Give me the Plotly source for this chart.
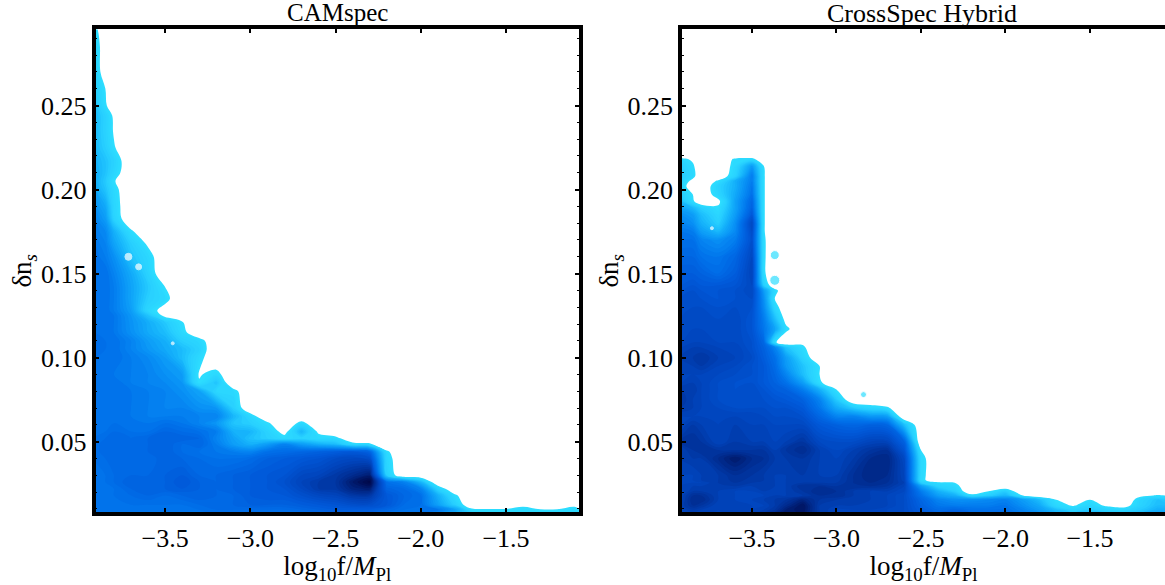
import plotly.graph_objects as go

LEFT_X = [-3.92,-3.85,-3.8,-3.7,-3.6,-3.5,-3.4,-3.3,-3.2,-3.1,-3.0,-2.9,-2.8,-2.7,-2.6,-2.5,-2.4,-2.3,-2.2,-2.1,-2.0,-1.9,-1.8,-1.7,-1.6,-1.5,-1.4,-1.3,-1.2,-1.1,-1.056]
LEFT_Y = [0.0068,0.0095,0.0125,0.018,0.022,0.026,0.03,0.04,0.044,0.0485,0.052,0.056,0.061,0.065,0.07,0.08,0.085,0.09,0.10,0.105,0.11,0.115,0.121,0.125,0.128,0.135,0.142,0.15,0.16,0.168,0.175,0.183,0.19,0.2,0.205,0.21,0.217,0.225,0.235,0.244,0.25,0.26,0.27,0.285,0.292,0.2967]
LEFT_ROWS = [
 [4.5,4.5,4.5,4.5,4.5,4.5,4.5,4.5,5,5,5,5,5,5,5.5,5.5,5.5,5.5,5,5,5,4,3,2,1.4,1.4,1.4,1.4,1.4,1.4,1.4],
 [5,5,5,5,5,5,5,5,5.2,5.2,5.2,5.2,5.2,5.4,5.6,5.8,5.8,5.8,5.4,5,5,4.8,3.5,1.3,1.2,1.2,1.3,1.1,1.1,1.3,1.1],
 [5,5,5,5,5,5,5,5.2,5.4,5.4,5.6,5.6,5.6,5.8,6,6.2,6.5,6.5,6,5.2,5,3.5,2,0,0,0,0.8,0,0,0.8,0],
 [5,5,5,5.2,5.4,5.2,5.4,5.6,5.4,5.4,5.8,6,6,6.4,6.8,7,7.5,7.5,6,5.4,5,3,1.2],
 [5,5,5,5.4,5.6,5.6,5.8,5.6,5.4,5.6,5.8,6,6.2,6.8,7.4,7.5,8.3,8.5,5.5,5.2,4.4,1.8],
 [5,5,5.2,5.6,5.6,5.6,6,5.6,5.4,5.6,5.8,6,6.4,7,7.4,7.6,8.6,9.3,5,4.5,2.8],
 [5,5,5.2,5.4,5.4,5.6,5.8,5.4,5.4,5.6,5.8,6,6.2,6.8,7,7.5,8,8.5,2],
 [5,5.2,5.4,5.4,5.2,5.6,5.4,5.2,5,5,5.2,5.6,5.8,6,6.2,6.6,6.8,6.5,1.5],
 [5,5.4,5.4,5.2,5.4,5.6,5.2,5,4.8,4.6,4.4,5,5.2,5.4,5.6,5.8,6,5.5,1.2],
 [5,5.4,5.4,5.2,5.4,5.6,5.2,5.4,4.6,3.6,3,3.6,4.4,3.6,3,2.6,1.4,1.2],
 [5,5.2,5.4,5.2,5.4,5.6,5.6,5.4,4.4,3.4,2.5,2,1.4,1.8,1.4,1.4],
 [5,5,5.2,5,5,5.4,5.2,5,4.6,3,2.8,1.8,0.6,2.8,0.8],
 [5,5,5,5,4.8,5,4.8,4.4,3.8,2.4,2,1.2,0,1.4],
 [5,5,5,4.8,4.6,4.6,4.6,4.4,4.4,2.8,1.6],
 [5,5,5,4.8,4.6,4.4,4.4,4,3.8,2],
 [5,5,5,4.8,4.6,4.4,4,3.4,1.6,1.4],
 [5,5,5,4.6,4.4,4.2,3.8,1.1,2.4],
 [5,5,4.8,4.6,4.4,4,3.6,0.9,1.4],
 [5,5,5,4.6,4.2,3.6,2.6,1.4],
 [5.2,5,5,4.4,3.8,3.2,2.6,1.8],
 [5.2,5,5,4.4,3.6,3,2,1.5],
 [5,5,4.8,4,3.2,2.6,1.4],
 [5,5,4.8,3.9,3.1,2.2,1.1],
 [5,5,4.8,3.8,2.4,0.7],
 [5,5,4.6,3.6,1.6,0.5],
 [5,5,4.6,3.4,2,1.4],
 [5,5,4.6,3.4,2.2,1],
 [5,5,4.4,3.2,1.8],
 [5,4.6,4,2.4,1.5],
 [4.8,4.4,3.4,2,0.8],
 [4.6,4.2,3,1.2],
 [4.4,3.6,1.8],
 [4,3.2,1.6],
 [3.4,2.4,1.4],
 [3.2,2.2,1.1],
 [3.2,2.4,1.6],
 [3,2.4,1.8],
 [2.8,2,1.1],
 [2.8,1.8,0.9],
 [2.8,1.8,0.8],
 [2.6,1.2],
 [2.2,1],
 [2.4],
 [2.2],
 [1.8],
 [1.5],
]

RIGHT_X = [-3.926,-3.85,-3.8,-3.7,-3.6,-3.5,-3.43,-3.365,-3.3,-3.2,-3.1,-3.0,-2.9,-2.8,-2.7,-2.6,-2.5,-2.4,-2.3,-2.2,-2.1,-2.0,-1.9,-1.8,-1.7,-1.6,-1.5,-1.4,-1.3,-1.2,-1.1,-1.056]
RIGHT_Y = [0.0068,0.0095,0.012,0.0155,0.018,0.0205,0.0235,0.0255,0.027,0.03,0.04,0.045,0.05,0.06,0.065,0.07,0.075,0.081,0.085,0.09,0.095,0.10,0.106,0.109,0.117,0.123,0.13,0.135,0.14,0.143,0.15,0.16,0.17,0.175,0.18,0.185,0.189,0.193,0.197,0.202,0.205,0.208,0.214,0.218,0.2205,0.2967]
RIGHT_ROWS = [
 [6.5,7,7,7,7,7,7.5,8,8.6,8.6,7.4,7,7,7,6.8,6.6,6,5.6,6,5.4,5.2,5.4,4.6,4,3,2.4,3,2.6,2.6,2.8,3.5,3.5],
 [7,7.4,7.2,7,7.2,7,7.2,7.6,8.4,8.8,7.4,7,7,7,6.8,6.6,5.8,5.2,5.4,5,5,5,4.4,3.6,2.6,1.8,2.2,1.8,1.6,2.2,3,3],
 [7.2,7.8,7.6,7,7.2,7,7,7.4,8,8.8,7.4,7.2,7.2,7.2,7,6.6,5.6,4.8,4.6,4.6,4.6,4.8,4,3.2,1.5,0.9,1.6,0.8,0.5,1.8,2.6,2.6],
 [7,8,8,7.2,7,7,7.2,7.4,7.6,8.2,7.6,7.4,7.4,7.2,7,6.6,5.4,4.4,4,4,4.2,4.4,3.6,2.6,1,0,1,0,0,1.6,2.4,2.2],
 [7,7.8,7.8,7.2,7,7,7,7.2,7.2,7.4,7.8,7.8,7.4,7.2,7,6.6,5,3.6,3,1.4,2,2.8,1,0,0,0,0,0,0,0.7,1.1,1],
 [6.8,7.4,7.4,7.2,7,7,7.2,7.2,7.2,7.6,8,7.8,7.4,7.2,7.2,6.8,4.6,3,2,0,1,2],
 [7,7.2,7.2,7.4,7.4,7.2,7.4,7.2,7.2,7.8,7.8,7.6,7.8,7.8,7.6,7,3.6,1.8,1.4],
 [7,7,7,7.4,7.6,7.4,7.4,7.2,7.2,7.4,7.4,7.4,7.8,8,7.8,7.2,2,1.3,1],
 [7,7,7.2,7.4,7.7,7.5,7.4,7.2,7.2,7.4,7.3,7.3,7.8,8.1,7.9,7.1,1.4],
 [7,7,7.2,7.4,7.8,7.6,7.4,7.2,7.2,7.4,7.2,7.2,7.8,8.2,8,7,1.4],
 [7.2,7.4,7.4,8,8.6,8,7.8,7.4,7.4,7.6,7.2,7,7.4,8,8.2,6.8,1.4],
 [7.2,7.6,7.8,7.6,7.6,7.6,7.6,7.2,7.6,8,7.2,6.8,7.2,7.6,7.8,6.2,1],
 [7.6,7.8,7.6,7,7.4,7.2,7.2,7,7.2,7.6,6.8,6.6,6.6,7,7,5.6],
 [7,7.4,7.2,7,7.2,7,7,6.8,6.8,6.8,6,5.6,5.4,5.6,5.4,2.6],
 [7,7,7,7,7,7,6.8,6.6,6.6,6.4,5.4,4.4,4.4,3.8,3.6],
 [7.4,7.2,7,6.8,6.6,6.6,6.6,6.4,6.4,6,4.8,3.2,2.2,1.6,1.2],
 [7.6,7.2,7,6.6,6.4,6.6,6.4,6.2,6,5.6,4.4,2.2],
 [7.4,7.4,7,6.6,6.4,6.6,6.2,5.8,5.6,4.6,3,1],
 [7,7.2,7,6.6,6.4,6.4,6,5.6,5,3.6,1.2],
 [7,7,7,6.8,6.6,6.4,6,5.4,4.4,2.6,1],
 [7.2,7.2,7.4,7,6.8,6.4,6,5.2,3.8,2.4,1],
 [7.2,7.4,7.6,7.2,7,6.6,5.8,5,3.6,1.8],
 [7,7.2,7.2,7,7,6.4,5.6,4.4,2.4,1.2],
 [6.8,7,7,6.8,6.8,6.4,5.4,1.2,0,0.8],
 [6.6,6.8,6.8,6.8,6.8,6.2,4.8,3.4,1.3],
 [6.6,6.8,6.8,6.6,6.8,6.2,4.6,2.6,0.6],
 [6.4,6.6,6.6,6.4,6.6,6.4,4.2,1.6],
 [6.4,6.6,6.4,6.2,6.4,6.6,4,1],
 [6.2,6.4,6.2,6.2,6.4,6.8,3.6,1.4],
 [6,6.2,6,6,6.2,6.8,2],
 [5.8,5.8,5.6,5.2,5.8,7,1.2],
 [5.4,5.4,5,4.8,5.4,6.8,1.2],
 [5,5,4.4,4,4.6,6.4,1.2],
 [4.8,4.6,3.6,2.8,4.2,6.6,1.1],
 [4.4,4,3,2,4,6.8,1.1],
 [4,3.6,2.6,1.6,3.6,6,1.1],
 [3.4,2.8,2,1.2,3.4,5.6,1.1],
 [2.6,1.2,0,0.7,3.4,5.4,1.1],
 [2.2,1,0,1.6,3.2,5,1.1],
 [2,0,0,1.8,3,4.8,1.1],
 [2,0.6,0,1.2,3,4.6,1.1],
 [2.2,1.4,0,0,1.8,4.6,1.1],
 [2,1.2,0,0,1.4,3.6,1],
 [1.4,0.8,0,0,1.2,1.4],
 [0],
 [0],
]

# small isolated spots too fine for the grid
RIGHT_SPOT_X = [-3.365,-3.365,-2.84]
RIGHT_SPOT_Y = [0.161,0.146,0.078]
RIGHT_SPOT_SIZE = [9,10,6]
RIGHT_HOLE_X = [-3.737]
RIGHT_HOLE_Y = [0.177]
RIGHT_HOLE_SIZE = [3]
LEFT_HOLE_X = [-3.715,-3.655,-3.455]
LEFT_HOLE_Y = [0.160,0.154,0.1085]
LEFT_HOLE_SIZE = [7,6,3]

TITLES = ["CAMspec","CrossSpec Hybrid"]
X_TICKS = [-3.5,-3.0,-2.5,-2.0,-1.5]
Y_TICKS = [0.05,0.10,0.15,0.20,0.25]
# the grids run a little past the frame on every side, so the thin strips along the frame stay drawn
X_LOW, X_HIGH, Y_LOW, Y_HIGH = -4.1, -0.9, -0.01, 0.32
LEVEL_START, LEVEL_END, LEVEL_SIZE = 1.0, 9.8, 0.2
LEVEL_COLOURS = [(1,"#2edeff"),(2,"#28d0ff"),(3,"#14b0fb"),(4,"#0890f5"),(5,"#0070ea"),
                 (6,"#0058d8"),(7,"#0044bc"),(8,"#002c90"),(9,"#000e55"),(9.9,"#000030")]

def pad(rows, n):
    return [list(r) + [0]*(n-len(r)) for r in rows]

def extended(xs, ys, rows):
    grid = [[r[0]] + r + [r[-1]] for r in pad(rows, len(xs))]
    grid = [grid[0]] + grid + [grid[-1]]
    return [X_LOW] + xs + [X_HIGH], [Y_LOW] + ys + [Y_HIGH], grid

# plotly stretches a fill colorscale over [start - size/2, end + size/2]
z_lo, z_hi = LEVEL_START - LEVEL_SIZE/2, LEVEL_END + LEVEL_SIZE/2
def frac(z):
    return (z - z_lo)/(z_hi - z_lo)
SCALE = [[0,"#ffffff"],[frac(LEVEL_START)-0.0005,"#ffffff"]] + [[frac(z),c] for z,c in LEVEL_COLOURS]
CYAN = LEVEL_COLOURS[0][1]
FONT = dict(family="Liberation Serif", size=26, color="black")
TITLE_FONT = dict(family="Liberation Serif", size=27, color="black")

fig = go.Figure()
for i,(xs,ys,rows) in enumerate([(LEFT_X,LEFT_Y,LEFT_ROWS),(RIGHT_X,RIGHT_Y,RIGHT_ROWS)]):
    sfx = "" if i==0 else "2"
    ex,ey,ez = extended(xs,ys,rows)
    fig.add_trace(go.Contour(x=ex,y=ey,z=ez,xaxis="x"+sfx,yaxis="y"+sfx,
        zmin=0,zmax=10,colorscale=SCALE,showscale=False,hoverinfo="skip",
        contours=dict(coloring="fill",start=LEVEL_START,end=LEVEL_END,size=LEVEL_SIZE,showlines=False),
        line=dict(width=0,smoothing=1.0)))
fig.add_trace(go.Scatter(x=LEFT_HOLE_X,y=LEFT_HOLE_Y,mode="markers",xaxis="x",yaxis="y",
    marker=dict(color="white",size=LEFT_HOLE_SIZE),hoverinfo="skip"))
fig.add_trace(go.Scatter(x=RIGHT_SPOT_X,y=RIGHT_SPOT_Y,mode="markers",xaxis="x2",yaxis="y2",
    marker=dict(color=CYAN,size=RIGHT_SPOT_SIZE),hoverinfo="skip"))
fig.add_trace(go.Scatter(x=RIGHT_HOLE_X,y=RIGHT_HOLE_Y,mode="markers",xaxis="x2",yaxis="y2",
    marker=dict(color="white",size=RIGHT_HOLE_SIZE),hoverinfo="skip"))

def xax(dom,rng):
    return dict(domain=dom,range=rng,tickvals=X_TICKS,tickformat=".1f",ticks="inside",ticklen=4,tickwidth=2,
        tickcolor="black",showline=True,linecolor="black",linewidth=3.5,mirror="ticks",showgrid=False,zeroline=False,
        tickfont=FONT,title=dict(text="log<sub>10</sub>f/<i>M</i><sub>Pl</sub>",font=TITLE_FONT,standoff=13))
def yax(dom,mirror):
    return dict(domain=dom,range=[0.008,0.2953],tickvals=Y_TICKS,tickformat=".2f",ticks="inside",ticklen=4,tickwidth=2,
        tickcolor="black",showline=True,linecolor="black",linewidth=3.5,mirror=mirror,showgrid=False,zeroline=False,
        tickfont=FONT,title=dict(text="δn<sub><i>s</i></sub>",font=TITLE_FONT,standoff=0),
        minor=dict(dtick=0.01,ticks="inside",ticklen=2,tickwidth=1,tickcolor="black",showgrid=False))

ydom=[(585-514)/585,(585-29.5)/585]
fig.update_layout(width=1165,height=585,margin=dict(l=0,r=0,t=0,b=0),paper_bgcolor="white",plot_bgcolor="white",showlegend=False,
    xaxis=xax([95.5/1165,579/1165],[-3.908,-1.072]),yaxis=dict(yax(ydom,"ticks"),anchor="x"),
    xaxis2=dict(xax([682/1165,1.0],[-3.914,-1.056]),anchor="y2"),yaxis2=dict(yax(ydom,False),anchor="x2"),
    annotations=[dict(text=TITLES[0],x=337/1165,y=1.0,xref="paper",yref="paper",xanchor="center",yanchor="top",showarrow=False,font=dict(family="Liberation Serif",size=25,color="black"),yshift=3),
                 dict(text=TITLES[1],x=922/1165,y=1.0,xref="paper",yref="paper",xanchor="center",yanchor="top",showarrow=False,font=dict(family="Liberation Serif",size=26,color="black"),yshift=3)])
fig.write_html("out.html", config=dict(displayModeBar=False), post_script="document.body.style.margin='0';")
